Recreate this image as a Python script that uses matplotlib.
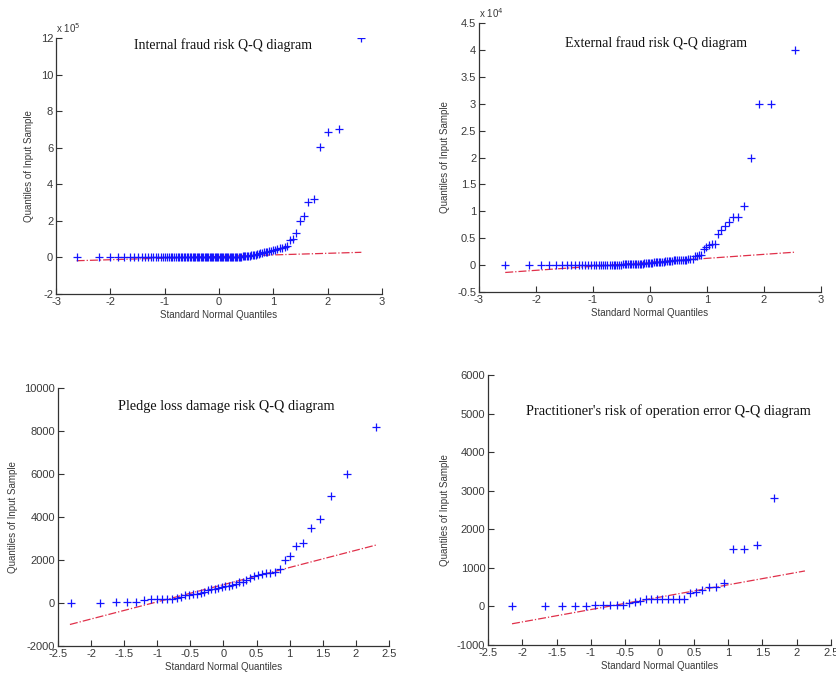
import matplotlib
matplotlib.use("Agg")
import matplotlib.pyplot as plt
from matplotlib.ticker import FuncFormatter
from statistics import NormalDist

plt.rcParams['axes.unicode_minus'] = False
plt.rcParams['font.family'] = ['Liberation Sans', 'DejaVu Sans']

# ---------------- data (sorted samples) ----------------
titles = ["Internal fraud risk Q-Q diagram",
          "External fraud risk Q-Q diagram",
          "Pledge loss damage risk Q-Q diagram",
          "Practitioner's risk of operation error Q-Q diagram"]

# Internal fraud (units of 1e5), n = 110
internal_y = [0.0, 0.0, 0.0, 0.0, 0.0, 0.0, 0.0, 0.001, 0.001, 0.001,
              0.002, 0.002, 0.002, 0.003, 0.003, 0.003, 0.004, 0.004, 0.004, 0.005,
              0.005, 0.005, 0.006, 0.006, 0.006, 0.007, 0.007, 0.008, 0.008, 0.008,
              0.009, 0.009, 0.010, 0.010, 0.011, 0.011, 0.012, 0.012, 0.013, 0.013,
              0.014, 0.014, 0.015, 0.015, 0.016, 0.016, 0.017, 0.018, 0.018, 0.019,
              0.020, 0.020, 0.021, 0.022, 0.022, 0.023, 0.024, 0.025, 0.026, 0.026,
              0.027, 0.028, 0.029, 0.030, 0.031, 0.032, 0.034, 0.035, 0.037, 0.040,
              0.042, 0.045, 0.050, 0.055, 0.060, 0.070, 0.080, 0.090, 0.100, 0.120,
              0.130, 0.150, 0.160, 0.180, 0.200, 0.220, 0.240, 0.270, 0.290, 0.310,
              0.340, 0.370, 0.400, 0.430, 0.460, 0.500, 0.540, 0.580, 0.600,
              0.95, 1.02, 1.31, 2.00, 2.24, 3.03, 3.19, 6.02, 6.88, 7.00, 12.0]
internal_line_x = [-2.62, 2.62]
internal_line_y = [-0.18, 0.28]

# External fraud (units of 1e4), n = 90
external_y = [0.0, 0.0, 0.0, 0.0, 0.0, 0.0, 0.001, 0.001, 0.001, 0.002,
              0.002, 0.002, 0.003, 0.003, 0.003, 0.004, 0.004, 0.005, 0.005, 0.006,
              0.006, 0.007, 0.007, 0.008, 0.008, 0.009, 0.010, 0.011, 0.012, 0.013,
              0.014, 0.015, 0.016, 0.017, 0.018, 0.019, 0.020, 0.022, 0.024, 0.026,
              0.028, 0.030, 0.033, 0.036, 0.040, 0.043, 0.046, 0.050, 0.053, 0.056,
              0.058, 0.060, 0.063, 0.066, 0.070, 0.073, 0.076, 0.080, 0.083, 0.086,
              0.090, 0.093, 0.096, 0.100, 0.100, 0.100, 0.100, 0.110, 0.110,
              0.12, 0.16, 0.17, 0.18, 0.19, 0.30, 0.33, 0.37, 0.40, 0.40,
              0.58, 0.65, 0.72, 0.80, 0.90, 0.90, 1.10, 2.00, 3.00, 3.00, 4.00]
external_line_x = [-2.54, 2.54]
external_line_y = [-0.137, 0.24]

# Pledge loss damage, n = 48
pledge_y = [0, 0, 50, 50, 50, 150, 200, 200, 200, 200,
            200, 250, 300, 350, 380, 400, 400, 450, 500, 600,
            650, 650, 700, 750, 780, 800, 850, 900, 1000, 1000,
            1050, 1150, 1250, 1300, 1350, 1380, 1400, 1450, 1600, 2000,
            2200, 2650, 2800, 3500, 3900, 5000, 6000, 8200]
pledge_line_x = [-2.32, 2.31]
pledge_line_y = [-1000, 2700]

# Practitioner operation error, n = 32 (largest value lies above the y-limit)
practitioner_y = [0, 0, 0, 10, 20, 30, 35, 35, 40, 50,
                  100, 120, 150, 180, 200, 200, 200, 200, 200, 200,
                  200, 350, 370, 430, 500, 500, 600, 1500, 1500, 1600,
                  2800, 7000]
practitioner_line_x = [-2.15, 2.12]
practitioner_line_y = [-450, 920]

# ---------------- figure ----------------
fig = plt.figure(figsize=(8.37, 6.78), dpi=100)

W, H = 837.0, 678.0
def box(x0, y0, x1, y1):
    return [x0 / W, 1 - y1 / H, (x1 - x0) / W, (y1 - y0) / H]

panels = [
    dict(rect=box(56, 38, 382, 294), y=internal_y, scale=1e5, lx=internal_line_x, ly=internal_line_y,
         xlim=(-3, 3), xt=[-3, -2, -1, 0, 1, 2, 3], ylim=(-2, 12), yt=[-2, 0, 2, 4, 6, 8, 10, 12],
         exp='5', tpos=(0.512, 0.973), tsize=10),
    dict(rect=box(479, 23, 821, 292), y=external_y, scale=1e4, lx=external_line_x, ly=external_line_y,
         xlim=(-3, 3), xt=[-3, -2, -1, 0, 1, 2, 3], ylim=(-0.5, 4.5),
         yt=[-0.5, 0, 0.5, 1, 1.5, 2, 2.5, 3, 3.5, 4, 4.5], exp='4', tpos=(0.517, 0.925), tsize=10),
    dict(rect=box(58, 388, 389, 646), y=pledge_y, scale=1, lx=pledge_line_x, ly=pledge_line_y,
         xlim=(-2.5, 2.5), xt=[-2.5, -2, -1.5, -1, -0.5, 0, 0.5, 1, 1.5, 2, 2.5],
         ylim=(-2000, 10000), yt=[-2000, 0, 2000, 4000, 6000, 8000, 10000], exp=None,
         tpos=(0.507, 0.928), tsize=10.3),
    dict(rect=box(488, 375, 831, 645), y=practitioner_y, scale=1, lx=practitioner_line_x, ly=practitioner_line_y,
         xlim=(-2.5, 2.5), xt=[-2.5, -2, -1.5, -1, -0.5, 0, 0.5, 1, 1.5, 2, 2.5],
         ylim=(-1000, 6000), yt=[-1000, 0, 1000, 2000, 3000, 4000, 5000, 6000], exp=None,
         tpos=(0.527, 0.868), tsize=10.4),
]

nd = NormalDist()
txt_col = '#3a3a3a'
for p, title in zip(panels, titles):
    ax = fig.add_axes(p['rect'])
    ys = p['y']
    n = len(ys)
    xs = [nd.inv_cdf((i - 0.5) / n) for i in range(1, n + 1)]
    sc = p['scale']
    ax.plot(p['lx'], [v * sc for v in p['ly']], linestyle='-.', color='#e0304a', lw=0.9, zorder=2)
    ax.plot(xs, [v * sc for v in ys], linestyle='none', marker='+', color='#1414ff',
            markersize=6, markeredgewidth=0.9, zorder=3)
    ax.set_xlim(*p['xlim'])
    ax.set_ylim(p['ylim'][0] * sc, p['ylim'][1] * sc)
    ax.set_xticks(p['xt'])
    ax.set_yticks([v * sc for v in p['yt']])
    ax.xaxis.set_major_formatter(FuncFormatter(lambda v, _: '%g' % round(v, 6)))
    ax.yaxis.set_major_formatter(FuncFormatter(lambda v, _, s=sc: '%g' % round(v / s, 6)))
    for s in ['top', 'right']:
        ax.spines[s].set_visible(False)
    for s in ['left', 'bottom']:
        ax.spines[s].set_color('#333333')
        ax.spines[s].set_linewidth(0.9)
    ax.tick_params(direction='in', length=4, width=0.8, colors='#333333', labelsize=8,
                   labelcolor=txt_col, pad=2)
    ax.set_xlabel('Standard Normal Quantiles', fontsize=7, color=txt_col, labelpad=2)
    ax.set_ylabel('Quantiles of Input Sample', fontsize=7, color=txt_col, labelpad=5)
    ax.text(p['tpos'][0], p['tpos'][1], title, transform=ax.transAxes, ha='center', va='center',
            fontsize=p['tsize'], family=['Liberation Serif', 'DejaVu Serif'], color='#111111')
    if p['exp']:
        ax.text(0.0, 1.01, r'x 10$^{%s}$' % p['exp'], transform=ax.transAxes, ha='left', va='bottom',
                fontsize=7, color=txt_col)

fig.savefig('out.png', dpi=100)
